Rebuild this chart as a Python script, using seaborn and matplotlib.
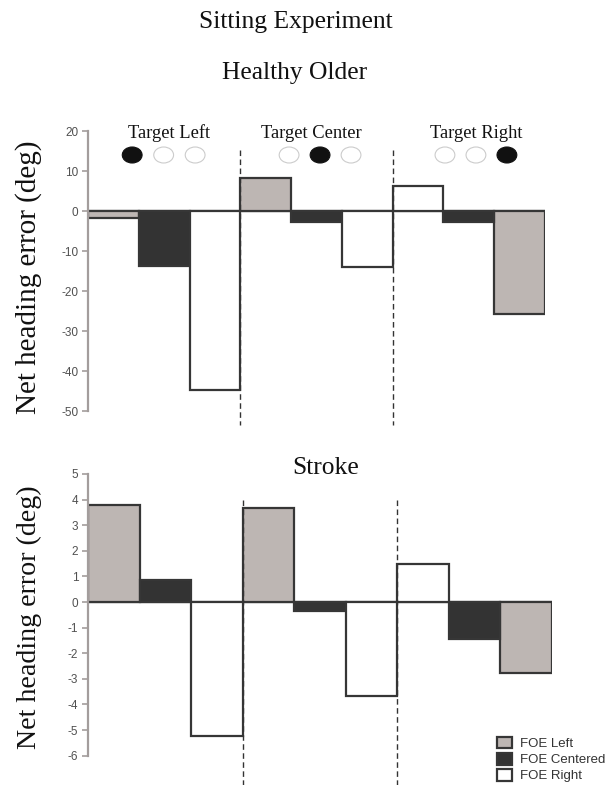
import matplotlib
matplotlib.use("Agg")
import matplotlib.pyplot as plt
from matplotlib.patches import Ellipse
import seaborn as sns
import pandas as pd

# ---- data ----
bar_ids = ["1", "2", "3", "4", "5", "6", "7", "8", "9"]
conditions = ["FOE Left", "FOE Centered", "FOE Right",
              "FOE Left", "FOE Centered", "FOE Right",
              "FOE Right", "FOE Centered", "FOE Left"]
healthy_older = [-1.7, -13.7, -44.7, 8.2, -2.8, -13.9, 6.2, -2.8, -25.8]
stroke = [3.8, 0.87, -5.22, 3.67, -0.34, -3.65, 1.5, -1.45, -2.77]
target_labels = ["Target Left", "Target Center", "Target Right"]
target_dots = [[True, False, False], [False, True, False], [False, False, True]]
hue_order = ["FOE Left", "FOE Centered", "FOE Right"]
palette = {"FOE Left": "#bdb6b3", "FOE Centered": "#333333", "FOE Right": "#ffffff"}

sns.set_style("white")
plt.rcParams["font.family"] = ["Liberation Serif", "DejaVu Serif"]

fig = plt.figure(figsize=(6.06, 7.85), dpi=100)
W, H = 606, 785
ax1 = fig.add_axes([88 / W, 1 - 411 / H, (545 - 88) / W, (411 - 131) / H])
ax2 = fig.add_axes([88 / W, 1 - 755.7 / H, (552 - 88) / W, (755.7 - 474) / H])

edge = "#363636"


def panel(ax, values, ylim, ticks, legend, lab_size, lab_xy):
    df = pd.DataFrame({"bar": bar_ids, "value": values, "cond": conditions})
    ax.axhline(0, color=edge, lw=1.6, zorder=1)
    sns.barplot(data=df, x="bar", y="value", hue="cond", hue_order=hue_order,
                palette=palette, dodge=False, width=1.0, edgecolor=edge,
                linewidth=1.6, saturation=1, legend=legend, ax=ax, zorder=2)
    ax.set_xlim(-0.5, 8.5)
    ax.set_ylim(*ylim)
    ax.set_yticks(ticks)
    ax.set_yticklabels([str(t) for t in ticks], family="Liberation Sans",
                       fontsize=8.5, color="#505050")
    ax.set_xticks([])
    ax.set_xlabel("")
    ax.set_ylabel("Net heading error (deg)", fontsize=lab_size, color="#111111")
    ax.yaxis.set_label_coords(*lab_xy)
    for s in ["top", "right", "bottom"]:
        ax.spines[s].set_visible(False)
    ax.spines["left"].set_color("#a39d9c")
    ax.spines["left"].set_linewidth(1.6)
    ax.tick_params(axis="y", direction="out", length=4, width=1.2,
                   color="#a39d9c", pad=3, left=True)
    ax.set_facecolor("none")


panel(ax1, healthy_older, (-50, 20), list(range(20, -51, -10)), False,
      21, (-0.101, 0.479))
panel(ax2, stroke, (-6, 5), list(range(5, -7, -1)), True,
      20.2, (-0.099, 0.492))

# dashed separators
for x in [2.5, 5.5]:
    ax1.plot([x, x], [15.2, -53.5], ls=(0, (4, 2.5)), color="#333333", lw=1.0,
             clip_on=False, zorder=3)
    ax2.plot([x, x], [4.0, -7.2], ls=(0, (4, 2.5)), color="#333333", lw=1.0,
             clip_on=False, zorder=3)

# target labels and dots
label_x = [1.1, 3.9, 7.15]
dot_x = [[0.37, 0.99, 1.61], [3.46, 4.07, 4.68], [6.53, 7.14, 7.75]]
for lab, lx, dxs, fills in zip(target_labels, label_x, dot_x, target_dots):
    ax1.text(lx, 19.5, lab, ha="center", va="center", fontsize=13.3,
             color="#111111")
    for dx, f in zip(dxs, fills):
        e = Ellipse((dx, 14.0), 0.39, 4.0,
                    facecolor="#111111" if f else "white",
                    edgecolor="#111111" if f else "#cccccc", lw=0.8,
                    clip_on=False, zorder=4)
        ax1.add_patch(e)

# titles
fig.text(296 / W, 1 - 22 / H, "Sitting Experiment", ha="center", va="center",
         fontsize=18.4, color="#111111")
fig.text(295 / W, 1 - 73 / H, "Healthy Older", ha="center", va="center",
         fontsize=18.4, color="#111111")
fig.text(326 / W, 1 - 468 / H, "Stroke", ha="center", va="center",
         fontsize=18.4, color="#111111")

sns.move_legend(ax2, loc="upper left", bbox_to_anchor=(497 / W, 1 - 737 / H),
                bbox_transform=fig.transFigure, frameon=False, title=None,
                handlelength=1.15, handleheight=0.95, handletextpad=0.6,
                labelspacing=0.22, borderpad=0, borderaxespad=0,
                prop={"family": "Liberation Sans", "size": 9.5})
for t in ax2.get_legend().get_texts():
    t.set_color("#333333")

fig.savefig("out.png", dpi=100)
